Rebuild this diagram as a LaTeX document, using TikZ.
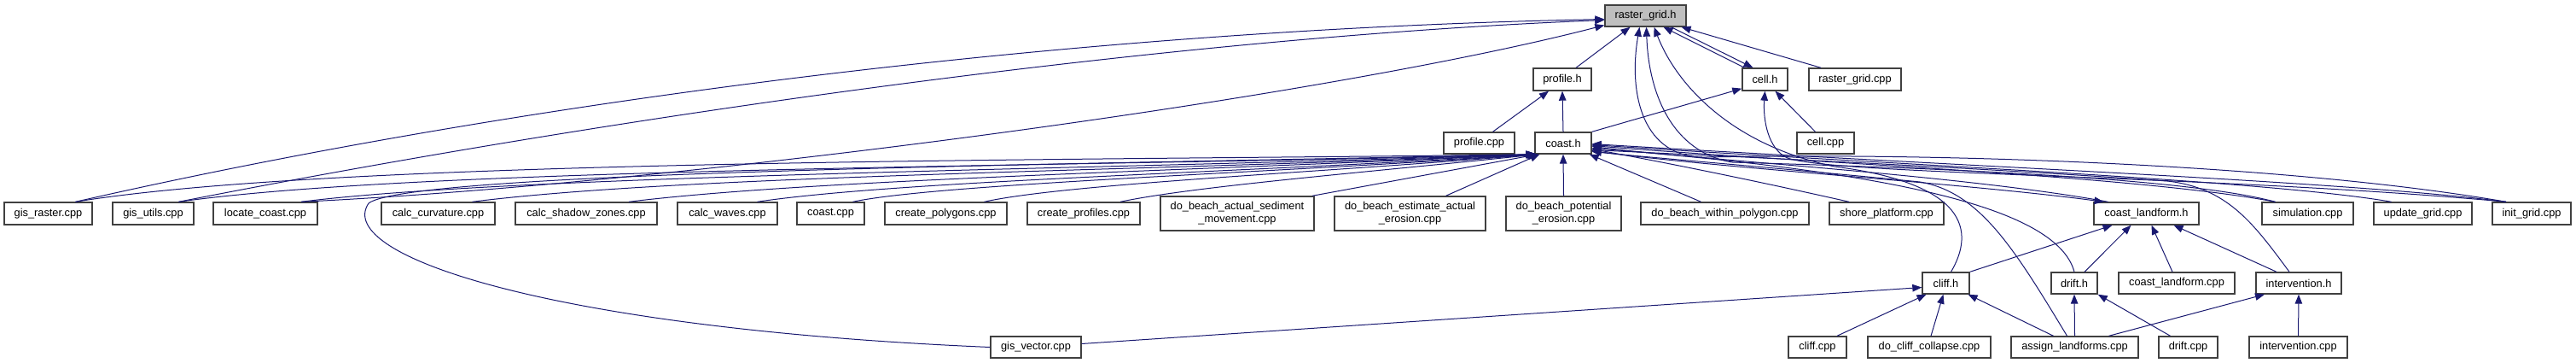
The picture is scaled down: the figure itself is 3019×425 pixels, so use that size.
\documentclass[tikz,border=0pt]{standalone}
\usepackage{fontspec}
\setmainfont{Liberation Sans}
\usetikzlibrary{arrows.meta}
\definecolor{edgeblue}{HTML}{191970}
\definecolor{boxgray}{HTML}{404040}
\definecolor{rootgray}{HTML}{BFBFBF}
\begin{document}
\begin{tikzpicture}[x=1pt,y=-1pt,
  nbox/.style={draw=boxgray, line width=1.4pt, fill=white, inner sep=0pt,
    minimum height=25pt, align=center,
    font=\fontsize{12.8pt}{15pt}\selectfont, text=black},
  tallbox/.style={nbox, minimum height=40pt},
  rootbox/.style={nbox, fill=rootgray},
  dep/.style={draw=edgeblue, line width=1pt,
    -{Triangle[length=11pt,width=8.5pt]}, fill=none}]
\useasboundingbox (0,0) rectangle (3019,425);

% ---- row 1
\node[rootbox, minimum width=95pt] (rg) at (1928.5,18.5) {raster\_grid.h};
% ---- row 2
\node[nbox, minimum width=68pt, minimum height=26pt] (prof) at (1831,93) {profile.h};
\node[nbox, minimum width=53pt, minimum height=26pt] (cellh) at (2068.5,93) {cell.h};
\node[nbox, minimum width=108pt, minimum height=26pt] (rgcpp) at (2174,93) {raster\_grid.cpp};
% ---- row 2b
\node[nbox, minimum width=83pt] (profcpp) at (1733.5,167.5) {profile.cpp};
\node[nbox, minimum width=66pt] (coasth) at (1832,167.5) {coast.h};
\node[nbox, minimum width=67pt] (cellcpp) at (2139.5,167.5) {cell.cpp};
% ---- row 3
\node[nbox, minimum width=103pt, minimum height=26pt] (gisr) at (56.5,250) {gis\_raster.cpp};
\node[nbox, minimum width=95pt, minimum height=26pt] (gisu) at (179.5,250) {gis\_utils.cpp};
\node[nbox, minimum width=122pt, minimum height=26pt] (loc) at (311,250) {locate\_coast.cpp};
\node[nbox, minimum width=133pt, minimum height=26pt] (curv) at (513.5,250) {calc\_curvature.cpp};
\node[nbox, minimum width=166pt, minimum height=26pt] (shad) at (687,250) {calc\_shadow\_zones.cpp};
\node[nbox, minimum width=117pt, minimum height=26pt] (waves) at (852.5,250) {calc\_waves.cpp};
\node[nbox, minimum width=79pt, minimum height=26pt] (coastcpp) at (973.5,250) {coast.cpp};
\node[nbox, minimum width=143pt, minimum height=26pt] (cpoly) at (1108.5,250) {create\_polygons.cpp};
\node[nbox, minimum width=132pt, minimum height=26pt] (cprof) at (1270,250) {create\_profiles.cpp};
\node[tallbox, minimum width=180pt] (dbas) at (1450,250) {do\_beach\_actual\_sediment\\\_movement.cpp};
\node[tallbox, minimum width=177pt] (dbea) at (1652.5,250) {do\_beach\_estimate\_actual\\\_erosion.cpp};
\node[tallbox, minimum width=135pt] (dbpe) at (1832.5,250) {do\_beach\_potential\\\_erosion.cpp};
\node[nbox, minimum width=197pt, minimum height=26pt] (dbwp) at (2021.5,250) {do\_beach\_within\_polygon.cpp};
\node[nbox, minimum width=134pt, minimum height=26pt] (shore) at (2211,250) {shore\_platform.cpp};
\node[nbox, minimum width=123pt, minimum height=26pt] (clh) at (2515.5,250) {coast\_landform.h};
\node[nbox, minimum width=107pt, minimum height=26pt] (sim) at (2704.5,250) {simulation.cpp};
\node[nbox, minimum width=115pt, minimum height=26pt] (upd) at (2839.5,250) {update\_grid.cpp};
\node[nbox, minimum width=92pt, minimum height=26pt] (init) at (2967,250) {init\_grid.cpp};
% ---- row 4
\node[nbox, minimum width=55pt] (cliffh) at (2280.5,331.5) {cliff.h};
\node[nbox, minimum width=54pt] (drifth) at (2431,331.5) {drift.h};
\node[nbox, minimum width=136pt] (clcpp) at (2551,331.5) {coast\_landform.cpp};
\node[nbox, minimum width=100pt] (intvh) at (2694,331.5) {intervention.h};
% ---- row 5
\node[nbox, minimum width=106pt] (gisv) at (1214,406.5) {gis\_vector.cpp};
\node[nbox, minimum width=68pt] (cliffcpp) at (2130,406.5) {cliff.cpp};
\node[nbox, minimum width=144pt] (dcc) at (2261,406.5) {do\_cliff\_collapse.cpp};
\node[nbox, minimum width=149pt] (assign) at (2431.5,406.5) {assign\_landforms.cpp};
\node[nbox, minimum width=69pt] (driftcpp) at (2564.5,406.5) {drift.cpp};
\node[nbox, minimum width=115pt] (intvcpp) at (2693.5,406.5) {intervention.cpp};

% ---- edges into raster_grid.h
\draw[dep] ([xshift=16pt]prof.north) -- ([xshift=-18pt]rg.south);
\draw[dep] ([xshift=-24pt]cellh.north) -- ([xshift=21pt]rg.south);
\draw[dep] ([xshift=30pt]rg.south) -- ([xshift=-14pt]cellh.north);
\draw[dep] ([xshift=-40pt]rgcpp.north) -- ([xshift=42pt]rg.south);
\draw[dep] ([xshift=32pt]gisr.north) .. controls (600,120) and (1250,35) .. ([yshift=-4pt]rg.west);
\draw[dep] ([xshift=30pt]gisu.north) .. controls (700,140) and (1350,45) .. ([yshift=-5pt]rg.west);
\draw[dep] ([xshift=42pt]loc.north) .. controls (800,215) and (1550,115) .. ([yshift=-11pt]rg.west);
\draw[dep] ([xshift=-30pt]init.north) .. controls (2700,195) and (2300,178) .. (2000,184)
  .. controls (1925,186) and (1908,110) .. ([xshift=-7pt]rg.south);
\draw[dep] ([xshift=-38pt]sim.north) .. controls (2550,205) and (2200,195) .. (2030,190)
  .. controls (1960,178) and (1932,110) .. ([xshift=1pt]rg.south);
\draw[dep] ([xshift=6pt]cliffh.north) .. controls (2315,270) and (2305,215) .. (2150,195)
  .. controls (2030,170) and (1965,100) .. ([xshift=10pt]rg.south);

% ---- edges into cell.h
\draw[dep] (coasth.north east) -- ([yshift=3pt]cellh.south west);
\draw[dep] ([xshift=-12pt]cellcpp.north) -- ([xshift=12pt]cellh.south);
\draw[dep] ([xshift=-30pt]init.north) .. controls (2600,205) and (2150,205) .. (2095,185)
  .. controls (2072,175) and (2066,140) .. (cellh.south);

% ---- edges into profile.h
\draw[dep] ([xshift=16pt]profcpp.north) -- ([xshift=-16pt]prof.south);
\draw[dep] (coasth.north) -- (prof.south);

% ---- edges into coast.h from the left
\draw[dep] ([xshift=32pt]gisr.north) .. controls (400,185) and (1300,188) .. ([xshift=1pt]coasth.south west);
\draw[dep] ([xshift=30pt]gisu.north) .. controls (500,195) and (1300,195) .. ([xshift=1pt]coasth.south west);
\draw[dep] ([xshift=42pt]loc.north) .. controls (600,205) and (1300,198) .. ([xshift=2pt]coasth.south west);
\draw[dep] ([xshift=40pt]curv.north) .. controls (800,205) and (1350,200) .. ([xshift=2pt]coasth.south west);
\draw[dep] ([xshift=50pt]shad.north) .. controls (950,210) and (1400,200) .. ([xshift=2pt]coasth.south west);
\draw[dep] ([xshift=35pt]waves.north) .. controls (1050,212) and (1450,202) .. ([xshift=3pt]coasth.south west);
\draw[dep] ([xshift=26pt]coastcpp.north) .. controls (1100,215) and (1500,202) .. ([xshift=3pt]coasth.south west);
\draw[dep] ([xshift=45pt]cpoly.north) .. controls (1250,215) and (1550,202) .. ([xshift=3pt]coasth.south west);
\draw[dep] ([xshift=43pt]cprof.north) .. controls (1400,218) and (1600,202) .. ([xshift=4pt]coasth.south west);
\draw[dep] ([xshift=88pt]dbas.north) -- ([xshift=4pt]coasth.south west);
\draw[dep] ([xshift=42pt]dbea.north) -- ([xshift=6pt]coasth.south west);
\draw[dep] (dbpe.north) -- (coasth.south);
\draw[dep] ([xshift=-28pt]dbwp.north) -- ([xshift=-3pt]coasth.south east);
\draw[dep] (gisv.west) .. controls (650,385) and (390,300) .. (432,238)
  .. controls (480,200) and (1300,192) .. ([xshift=1pt]coasth.south west);

% ---- edges into coast.h from the right
\draw[dep] ([xshift=-44pt]shore.north) .. controls (2050,210) and (1950,190) .. ([yshift=-7pt]coasth.east);
\draw[dep] ([xshift=-45pt]clh.north) .. controls (2300,205) and (2000,188) .. ([yshift=-4pt]coasth.east);
\draw[dep] ([xshift=-38pt]sim.north) .. controls (2500,205) and (2100,190) .. ([yshift=-3pt]coasth.east);
\draw[dep] ([xshift=-37pt]upd.north) .. controls (2650,210) and (2200,192) .. ([yshift=-2pt]coasth.east);
\draw[dep] ([xshift=-30pt]init.north) .. controls (2750,212) and (2300,195) .. ([yshift=-1pt]coasth.east);
\draw[dep] (drifth.north) .. controls (2410,240) and (2200,200) .. ([yshift=-6pt]coasth.east);
\draw[dep] ([xshift=-11pt]intvh.north) .. controls (2640,260) and (2610,220) .. (2540,212)
  .. controls (2300,195) and (2000,182) .. ([yshift=-8pt]coasth.east);
\draw[dep] ([xshift=-9pt]assign.north) .. controls (2360,290) and (2320,225) .. (2250,213)
  .. controls (2100,198) and (1950,186) .. ([yshift=-10pt]coasth.east);

% ---- coast.h -> coast_landform.h
\draw[dep] ([yshift=-9pt]coasth.east) .. controls (2000,196) and (2300,214) .. ([xshift=-50pt]clh.north);

% ---- edges into coast_landform.h
\draw[dep] (cliffh.north east) -- ([xshift=-40pt]clh.south);
\draw[dep] ([xshift=12pt]drifth.north) -- ([xshift=-18pt]clh.south);
\draw[dep] ([xshift=-5pt]clcpp.north) -- ([xshift=6pt]clh.south);
\draw[dep] ([xshift=-26pt]intvh.north) -- ([xshift=32pt]clh.south);

% ---- edges into cliff.h
\draw[dep] ([yshift=4pt]gisv.east) -- ([yshift=-5pt]cliffh.west);
\draw[dep] ([xshift=23pt]cliffcpp.north) -- ([xshift=-23pt]cliffh.south);
\draw[dep] ([xshift=2pt]dcc.north) -- ([xshift=-3pt]cliffh.south);
\draw[dep] ([xshift=-25pt]assign.north) -- ([xshift=26pt]cliffh.south);

% ---- edges into drift.h
\draw[dep] (assign.north) -- (drifth.south);
\draw[dep] ([xshift=-21pt]driftcpp.north) -- (drifth.south east);

% ---- edges into intervention.h
\draw[dep] ([xshift=40pt]assign.north) -- ([xshift=-40pt]intvh.south);
\draw[dep] (intvcpp.north) -- (intvh.south);
\end{tikzpicture}
\end{document}
